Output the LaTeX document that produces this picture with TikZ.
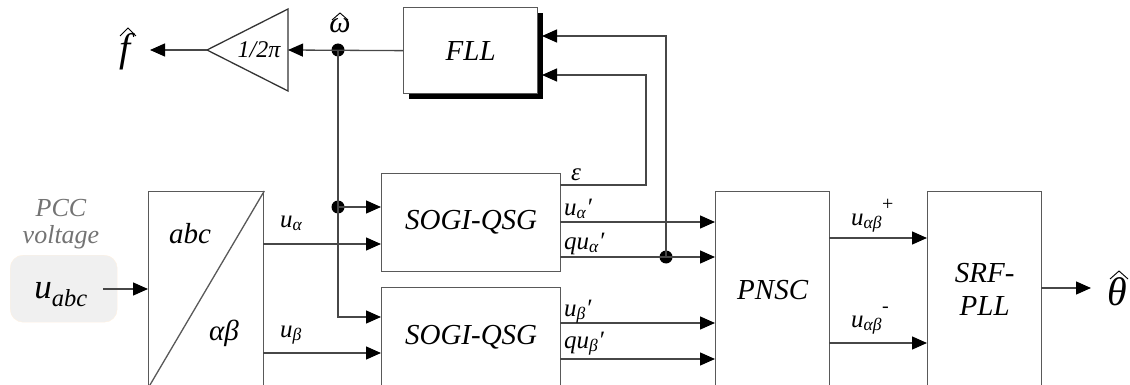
\documentclass[tikz,border=0pt]{standalone}
\usepackage{fontspec}
\setmainfont{Liberation Serif}
\usetikzlibrary{arrows.meta,shadows}

% font sizes used in the block diagram
\newcommand\blockfont{\fontsize{29}{33}\selectfont\itshape}
\newcommand\sigfont{\fontsize{25}{28}\selectfont\itshape}
\newcommand\signsup[1]{\raisebox{0.6em}{\fontsize{20}{20}\selectfont\upshape #1}}

\tikzset{
  wire/.style={draw=black!72, line width=1.3pt},
  arr/.style={wire, -{Triangle[length=15pt,width=13pt,color=black]}},
  block/.style={draw=black!65, line width=1.3pt, fill=white, anchor=north west,
                inner sep=0pt, font=\blockfont},
  sig/.style={font=\sigfont, inner sep=0pt, anchor=base west},
  dot/.style={circle, fill=black, inner sep=0pt, minimum size=13pt},
  hat/.style={draw=black, line width=0.9pt, line join=miter},
}

\begin{document}
\begin{tikzpicture}[x=1pt,y=-1pt]
\useasboundingbox (0,0) rectangle (1130,385);
\clip (0,0) rectangle (1130,385);

% ---------- blocks ----------
\node[block, minimum width=134pt, minimum height=86pt,
      drop shadow={shadow xshift=5pt,shadow yshift=-5pt,fill=black,opacity=1}]
      (fll) at (403,7) {FLL};
\node[block, minimum width=115pt, minimum height=196pt] (abc) at (148,191) {};
\node[block, minimum width=179pt, minimum height=98pt] (sogi1) at (381,173) {SOGI-QSG};
\node[block, minimum width=179pt, minimum height=100pt] (sogi2) at (381,287) {SOGI-QSG};
\node[block, minimum width=114pt, minimum height=196pt] (pnsc) at (715,191) {PNSC};
\node[block, minimum width=114pt, minimum height=196pt, align=center] (srf) at (927,191) {SRF-\\PLL};

% Clarke transform block
\draw[wire, draw=black!65] (abc.north east) -- (abc.south west);
\node[font=\blockfont, anchor=base] (abclbl) at (190,243) {abc};
\node[font=\blockfont, anchor=base] (ablbl) at (224,340) {αβ};

% gain 1/2pi
\coordinate (gin) at (288,50);
\coordinate (gout) at (207,50);
\draw[wire, draw=black!80] (288,9) -- (gout) -- (288,91) -- cycle;
\node[font=\fontsize{24}{26}\selectfont\itshape, anchor=base] (gain) at (259,58) {1/2π};

% input source
\node[draw=orange!12, fill=black!6, rounded corners=13pt, minimum width=107pt,
      minimum height=67pt, anchor=north west] (pcc) at (10,255) {};
\node[font=\fontsize{35}{36}\selectfont\itshape, anchor=base] (uabc) at (61,298) {u\textsubscript{abc}};
\node[font=\fontsize{26}{27}\selectfont\itshape, text=black!55, align=center] (pcclbl) at (61,224) {PCC\\voltage};

% ---------- junctions and ports ----------
\node[dot] (wj) at (338,50) {};
\node[dot] (j2) at (338,207) {};
\node[dot] (j3) at (666,257) {};
\coordinate (fend) at (150,50);
\coordinate (uin) at (103,289);
\coordinate (s2in) at (381,317);
\coordinate (ua) at (263,244);
\coordinate (ub) at (263,353);
\coordinate (eps) at (560,185);
\coordinate (ecorner) at (646,185);
\coordinate (fb1) at (542,36);
\coordinate (fb2) at (542,75);
\coordinate (ua1) at (560,222);
\coordinate (qa1) at (560,257);
\coordinate (ub1) at (560,323);
\coordinate (qb1) at (560,359);
\coordinate (pp) at (829,238);
\coordinate (pm) at (829,343);
\coordinate (th) at (1041,288);
\coordinate (thend) at (1091,288);

% ---------- connectors ----------
\draw[arr] (fll.west) -- (gin);
\draw[arr] (gout) -- (fend);
\draw[wire] (wj.center) -- (j2.center);
\draw[arr] (j2.center) -- (j2 -| sogi1.west);
\draw[arr] (j2.center) |- (s2in);
\draw[arr] (uin) -- (uin -| abc.west);
\draw[arr] (ua) -- (ua -| sogi1.west);
\draw[arr] (ub) -- (ub -| sogi2.west);
\draw[arr] (eps) -- (ecorner) |- (fb2);
\draw[arr] (j3.center) |- (fb1);
\draw[arr] (ua1) -- (ua1 -| pnsc.west);
\draw[arr] (qa1) -- (qa1 -| pnsc.west);
\draw[arr] (ub1) -- (ub1 -| pnsc.west);
\draw[arr] (qb1) -- (qb1 -| pnsc.west);
\draw[arr] (pp) -- (pp -| srf.west);
\draw[arr] (pm) -- (pm -| srf.west);
\draw[arr] (th) -- (thend);

% ---------- estimated quantities (letters with hats) ----------
\node[font=\fontsize{40}{40}\selectfont\itshape, anchor=base] (fhat) at (125,62) {f};
\draw[hat] (120,36) -- (128,28) -- (136,36);
\node[font=\fontsize{30}{30}\selectfont\itshape, anchor=base] (what) at (340,33) {ω};
\draw[hat] (332,20) -- (340,13) -- (348,20);
\node[font=\fontsize{40}{40}\selectfont\itshape, anchor=base] (thhat) at (1117,305) {θ};
\draw[hat] (1110,279) -- (1119,271) -- (1128,279);

% ---------- signal labels ----------
\node[sig] (lua) at (280,227) {u\textsubscript{α}};
\node[sig] (lub) at (280,337) {u\textsubscript{β}};
\node[sig] (leps) at (571,180) {ε};
\node[sig] (lua1) at (564,215) {u\textsubscript{α}′};
\node[sig] (lqa1) at (564,249) {qu\textsubscript{α}′};
\node[sig] (lub1) at (564,316) {u\textsubscript{β}′};
\node[sig] (lqb1) at (564,348) {qu\textsubscript{β}′};
\node[sig] (lpp) at (851,225) {u\textsubscript{αβ}\signsup{+}};
\node[sig] (lpm) at (851,327) {u\textsubscript{αβ}\signsup{-}};
\end{tikzpicture}
\end{document}
